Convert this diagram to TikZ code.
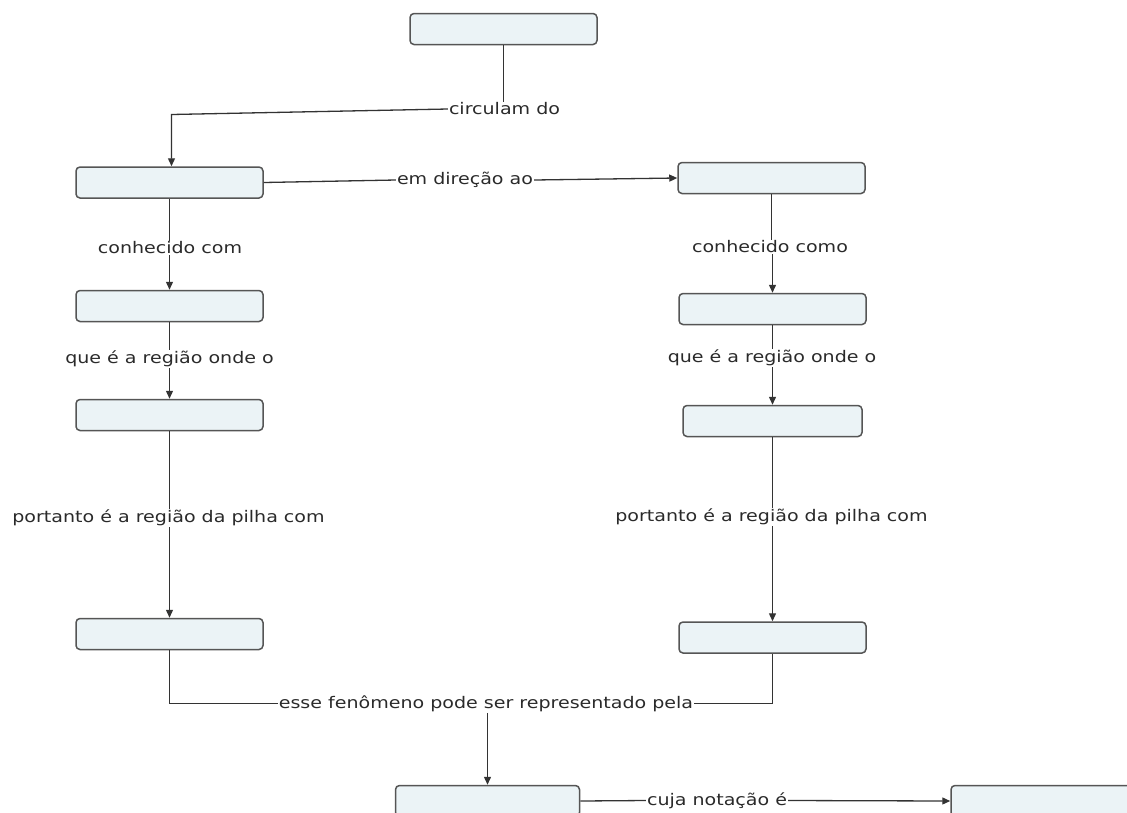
\documentclass[tikz,border=0pt]{standalone}
\usepackage{fontspec}
\setmainfont{DejaVu Sans}[FakeStretch=1.19]
\usetikzlibrary{arrows.meta}
\definecolor{boxfill}{HTML}{EBF3F6}
\definecolor{boxline}{HTML}{555555}
\definecolor{linkcol}{HTML}{333333}
\definecolor{txtcol}{HTML}{2A2A2A}
\begin{document}
\begin{tikzpicture}[x=1pt,y=-1pt,
 concept/.style={draw=boxline, fill=boxfill, line width=1.5pt, rounded corners=4pt, minimum height=31pt, inner sep=0pt},
 linklabel/.style={text=txtcol, font=\fontsize{16}{19}\selectfont, inner sep=1pt},
 link/.style={draw=linkcol, line width=1.3pt},
 arrowlink/.style={link, -{Triangle[length=8pt,width=7pt]}}]
\useasboundingbox (0,0) rectangle (1127,812);
% concepts
\node[concept, minimum width=187pt] (top) at (503.5,29) {};
\node[concept, minimum width=187pt] (l1) at (169.5,182.5) {};
\node[concept, minimum width=187pt] (r1) at (771.5,178) {};
\node[concept, minimum width=187pt] (l2) at (169.5,306) {};
\node[concept, minimum width=187pt] (r2) at (772.5,309) {};
\node[concept, minimum width=187pt] (l3) at (169.5,415) {};
\node[concept, minimum width=179pt] (r3) at (772.5,421) {};
\node[concept, minimum width=187pt] (l4) at (169.5,634) {};
\node[concept, minimum width=187pt] (r4) at (772.5,637.5) {};
\node[concept, minimum width=184pt] (b1) at (487.5,801) {};
\node[concept, minimum width=186pt] (b2) at (1044,801) {};
% link labels
\node[linklabel] (t1) at (504.5,109) {circulam do};
\node[linklabel] (t2) at (465,180) {em direção ao};
\node[linklabel] (t3) at (170,248) {conhecido com};
\node[linklabel] (t4) at (770,247) {conhecido como};
\node[linklabel] (t5) at (169.5,359) {que é a região onde o};
\node[linklabel] (t6) at (772,358) {que é a região onde o};
\node[linklabel] (t7) at (168.5,518) {portanto é a região da pilha com};
\node[linklabel] (t8) at (771.5,517) {portanto é a região da pilha com};
\node[linklabel] (t9) at (486,703.5) {esse fenômeno pode ser representado pela};
\node[linklabel] (t10) at (717,800.5) {cuja notação é};
% connectors
\coordinate (c1) at (171.5,114.5);
\draw[link] (top.south) -- (top.south |- t1.north);
\draw[arrowlink] (t1.west) -- (c1) -- (c1 |- l1.north);
\draw[link] (l1.east) -- (t2.west);
\draw[arrowlink] (t2.east) -- (r1.west);
\draw[link] (l1.south) -- (l1.south |- t3.north);
\draw[arrowlink] (l2.north |- t3.south) -- (l2.north);
\draw[link] (r1.south) -- (r1.south |- t4.north);
\draw[arrowlink] (r2.north |- t4.south) -- (r2.north);
\draw[link] (l2.south) -- (l2.south |- t5.north);
\draw[arrowlink] (l3.north |- t5.south) -- (l3.north);
\draw[link] (r2.south) -- (r2.south |- t6.north);
\draw[arrowlink] (r3.north |- t6.south) -- (r3.north);
\draw[link] (l3.south) -- (l3.south |- t7.north);
\draw[arrowlink] (l4.north |- t7.south) -- (l4.north);
\draw[link] (r3.south) -- (r3.south |- t8.north);
\draw[arrowlink] (r4.north |- t8.south) -- (r4.north);
\draw[link] (l4.south) |- (t9.west);
\draw[link] (r4.south) |- (t9.east);
\draw[arrowlink] (b1.north |- t9.south) -- (b1.north);
\draw[link] (b1.east) -- (t10.west);
\draw[arrowlink] (t10.east) -- (b2.west);
\end{tikzpicture}
\end{document}
